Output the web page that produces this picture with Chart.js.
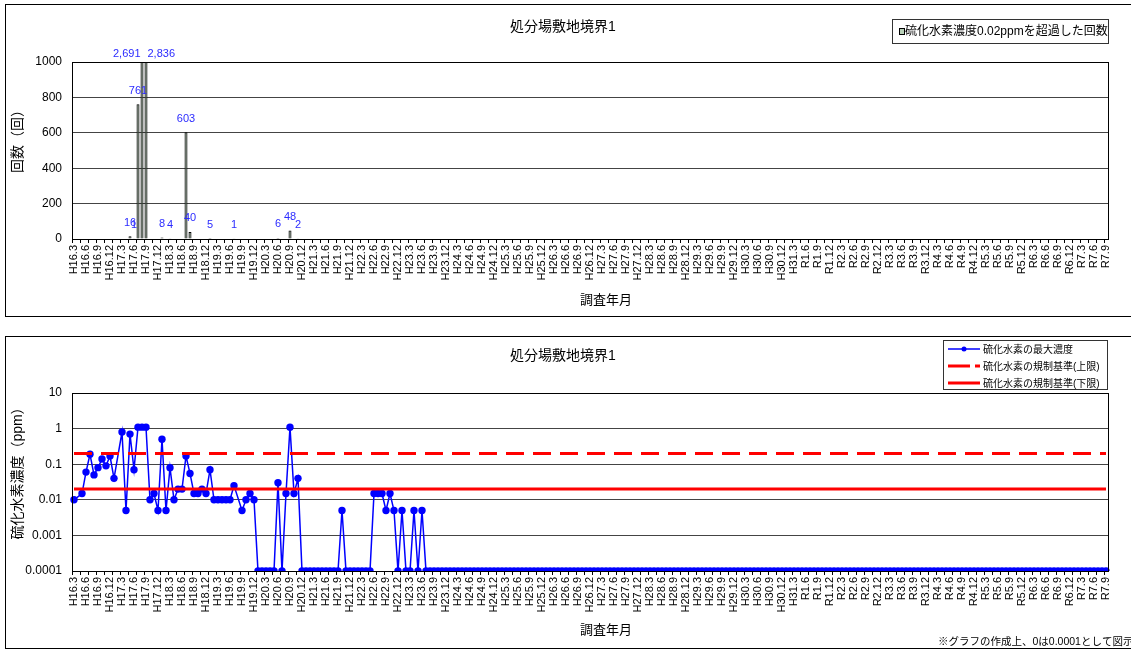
<!DOCTYPE html>
<html>
<head>
<meta charset="utf-8">
<script src="https://cdn.jsdelivr.net/npm/chart.js@4.4.0/dist/chart.umd.min.js"></script>
<style>
    html, body { margin: 0; padding: 0; background: #fff; overflow: hidden; }
    .panel { position: absolute; left: 5px; width: 1140px; height: 311px; border: 1px solid #000; }
    .panel canvas { position: absolute; left: 0; top: 0; }
</style>
</head>
<body>
<div class="panel" style="top:4px"><canvas id="countChart" width="1125" height="310"></canvas></div>
<div class="panel" style="top:336px"><canvas id="ppmChart" width="1125" height="310"></canvas></div>
<script>
var FONT = "'Liberation Sans', 'Noto Sans CJK JP', sans-serif";

// axis labels, one every 3 months (data is monthly)
var tickLabels = [
    'H16.3', 'H16.6', 'H16.9', 'H16.12', 'H17.3', 'H17.6', 'H17.9', 'H17.12',
    'H18.3', 'H18.6', 'H18.9', 'H18.12', 'H19.3', 'H19.6', 'H19.9', 'H19.12',
    'H20.3', 'H20.6', 'H20.9', 'H20.12', 'H21.3', 'H21.6', 'H21.9', 'H21.12',
    'H22.3', 'H22.6', 'H22.9', 'H22.12', 'H23.3', 'H23.6', 'H23.9', 'H23.12',
    'H24.3', 'H24.6', 'H24.9', 'H24.12', 'H25.3', 'H25.6', 'H25.9', 'H25.12',
    'H26.3', 'H26.6', 'H26.9', 'H26.12', 'H27.3', 'H27.6', 'H27.9', 'H27.12',
    'H28.3', 'H28.6', 'H28.9', 'H28.12', 'H29.3', 'H29.6', 'H29.9', 'H29.12',
    'H30.3', 'H30.6', 'H30.9', 'H30.12', 'H31.3', 'R1.6', 'R1.9', 'R1.12',
    'R2.3', 'R2.6', 'R2.9', 'R2.12', 'R3.3', 'R3.6', 'R3.9', 'R3.12',
    'R4.3', 'R4.6', 'R4.9', 'R4.12', 'R5.3', 'R5.6', 'R5.9', 'R5.12',
    'R6.3', 'R6.6', 'R6.9', 'R6.12', 'R7.3', 'R7.6', 'R7.9'
];

// times over 0.02ppm per month (from H16.3)
var exceedCount = [
    null, null, null, null, null, null, null, null, null, null, null, null,
    null, null, 16, 1, 761, 2691, 2836, 0, 0, 0, 8, 0,
    4, 0, 0, 0, 603, 40, 0, 0, 0, 0, 5, 0,
    0, 0, 0, 0, 1, 0, 0, 0, 0, 0, 0, 0,
    0, 0, 0, 6, 0, 0, 48, 0, 2, 0, 0, 0,
    0, 0, 0, 0, 0, 0, 0, 0, 0, 0, 0, 0,
    0, 0, 0, 0, 0, 0, 0, 0, 0, 0, 0, 0,
    0, 0, 0, 0, 0, 0, 0, 0, 0, 0, 0, 0,
    0, 0, 0, 0, 0, 0, 0, 0, 0, 0, 0, 0,
    0, 0, 0, 0, 0, 0, 0, 0, 0, 0, 0, 0,
    0, 0, 0, 0, 0, 0, 0, 0, 0, 0, 0, 0,
    0, 0, 0, 0, 0, 0, 0, 0, 0, 0, 0, 0,
    0, 0, 0, 0, 0, 0, 0, 0, 0, 0, 0, 0,
    0, 0, 0, 0, 0, 0, 0, 0, 0, 0, 0, 0,
    0, 0, 0, 0, 0, 0, 0, 0, 0, 0, 0, 0,
    0, 0, 0, 0, 0, 0, 0, 0, 0, 0, 0, 0,
    0, 0, 0, 0, 0, 0, 0, 0, 0, 0, 0, 0,
    0, 0, 0, 0, 0, 0, 0, 0, 0, 0, 0, 0,
    0, 0, 0, 0, 0, 0, 0, 0, 0, 0, 0, 0,
    0, 0, 0, 0, 0, 0, 0, 0, 0, 0, 0, 0,
    0, 0, 0, 0, 0, 0, 0, 0, 0, 0, 0, 0,
    0, 0, 0, 0, 0, 0, 0
];

// max H2S concentration per month (ppm), 0 = not detected, null = no data
var maxPpm = [
    0.01, null, 0.015, 0.06, 0.19, 0.05, 0.08, 0.14, 0.09, 0.17, 0.04, null,
    0.8, 0.005, 0.7, 0.07, 1.1, 1.1, 1.1, 0.01, 0.015, 0.005, 0.5, 0.005,
    0.08, 0.01, 0.02, 0.02, 0.17, 0.055, 0.015, 0.015, 0.02, 0.015, 0.07, 0.01,
    0.01, 0.01, 0.01, 0.01, 0.025, null, 0.005, 0.01, 0.015, 0.01, 0, 0,
    0, 0, 0, 0.03, 0, 0.015, 1.1, 0.015, 0.04, 0, 0, 0,
    0, 0, 0, 0, 0, 0, 0, 0.005, 0, 0, 0, 0,
    0, 0, 0, 0.015, 0.015, 0.015, 0.005, 0.015, 0.005, 0, 0.005, 0,
    0, 0.005, 0, 0.005, 0, 0, 0, 0, 0, 0, 0, 0,
    0, 0, 0, 0, 0, 0, 0, 0, 0, 0, 0, 0,
    0, 0, 0, 0, 0, 0, 0, 0, 0, 0, 0, 0,
    0, 0, 0, 0, 0, 0, 0, 0, 0, 0, 0, 0,
    0, 0, 0, 0, 0, 0, 0, 0, 0, 0, 0, 0,
    0, 0, 0, 0, 0, 0, 0, 0, 0, 0, 0, 0,
    0, 0, 0, 0, 0, 0, 0, 0, 0, 0, 0, 0,
    0, 0, 0, 0, 0, 0, 0, 0, 0, 0, 0, 0,
    0, 0, 0, 0, 0, 0, 0, 0, 0, 0, 0, 0,
    0, 0, 0, 0, 0, 0, 0, 0, 0, 0, 0, 0,
    0, 0, 0, 0, 0, 0, 0, 0, 0, 0, 0, 0,
    0, 0, 0, 0, 0, 0, 0, 0, 0, 0, 0, 0,
    0, 0, 0, 0, 0, 0, 0, 0, 0, 0, 0, 0,
    0, 0, 0, 0, 0, 0, 0, 0, 0, 0, 0, 0,
    0, 0, 0, 0, 0, 0, 0
];

var upperLimit = 0.2;   // 規制基準(上限)
var lowerLimit = 0.02;  // 規制基準(下限)
var zeroAs = 0.0001;    // 0 is drawn as 0.0001

var countTicks = [0, 200, 400, 600, 800, 1000];
var ppmTicks = [0.0001, 0.001, 0.01, 0.1, 1, 10];
var ppmTickLabels = ['0.0001', '0.001', '0.01', '0.1', '1', '10'];

// monthly categories, named only every third month
var months = [];
tickLabels.forEach(function (t, i) {
    months.push(t);
    if (i < tickLabels.length - 1) months.push('', '');
});

var ppmPlot = maxPpm.map(function (v) { return v === 0 ? zeroAs : v; });

function xAxis() {
    return {
        offset: true,
        ticks: {
            autoSkip: false, maxRotation: 90, minRotation: 90, padding: 2,
            color: '#000', font: { family: FONT, size: 11 },
            callback: function (v, i) { return months[i]; }
        },
        grid: {
            offset: true, drawOnChartArea: false, tickLength: 4,
            color: function (c) { return c.index % 2 === 0 ? '#000' : 'rgba(0,0,0,0)'; }
        },
        border: { display: false },
        afterFit: function (s) { s.height = 76; }
    };
}

// frame, titles, legend box, note
var decor = {
    id: 'decor',
    afterDraw: function (chart, args, o) {
        var ctx = chart.ctx, a = chart.chartArea;
        ctx.save();
        ctx.strokeStyle = '#000';
        ctx.lineWidth = 1;
        ctx.strokeRect(Math.round(a.left) + 0.5, Math.round(a.top) + 0.5, Math.round(a.right - a.left), Math.round(a.bottom - a.top));

        ctx.fillStyle = '#000';
        ctx.textAlign = 'center';
        ctx.textBaseline = 'middle';
        ctx.font = '14px ' + FONT;
        ctx.fillText(o.title, 557, o.titleY);
        ctx.font = '13px ' + FONT;
        ctx.fillText(o.xTitle, 600, o.xTitleY);

        ctx.save();
        ctx.translate(12, 133);
        ctx.rotate(-Math.PI / 2);
        ctx.font = '14px ' + FONT;
        ctx.fillText(o.yTitle, 0, 0);
        ctx.restore();

        var L = o.legend;
        ctx.strokeStyle = '#333';
        ctx.strokeRect(L.x + 0.5, L.y + 0.5, L.w, L.h);
        ctx.textAlign = 'left';
        ctx.font = L.size + 'px ' + FONT;
        chart.data.datasets.forEach(function (ds, i) {
            var y = L.y + L.first + i * L.step;
            if (chart.config.type === 'bar') {
                ctx.fillStyle = '#b8d0b8';
                ctx.fillRect(L.x + 7, y - 3, 5, 6);
                ctx.strokeStyle = '#000';
                ctx.strokeRect(L.x + 7.5, y - 2.5, 5, 6);
                ctx.fillStyle = '#000';
                ctx.fillText(ds.label, L.x + 13, y + 1);
            } else {
                ctx.save();
                ctx.strokeStyle = ds.borderColor;
                ctx.lineWidth = ds.borderWidth;
                ctx.setLineDash(ds.borderDash ? [22, 5] : []);
                ctx.beginPath();
                ctx.moveTo(L.x + 5, y);
                ctx.lineTo(L.x + 37, y);
                ctx.stroke();
                if (ds.pointRadius) {
                    ctx.fillStyle = ds.borderColor;
                    ctx.beginPath();
                    ctx.arc(L.x + 21, y, 2.5, 0, Math.PI * 2);
                    ctx.fill();
                }
                ctx.restore();
                ctx.fillText(ds.label, L.x + 40, y + 1);
            }
        });

        if (o.note) {
            ctx.font = '10.5px ' + FONT;
            ctx.fillText(o.note, 932, 305);
        }
        ctx.restore();
    }
};

// value labels above bars; bars cut off at the top get their label beside them
var barValueLabels = {
    id: 'barValueLabels',
    afterDatasetsDraw: function (chart) {
        var ctx = chart.ctx, a = chart.chartArea;
        var data = chart.data.datasets[0].data;
        var max = chart.scales.y.max;
        ctx.save();
        ctx.font = '11px ' + FONT;
        ctx.fillStyle = '#2b2bff';
        ctx.textBaseline = 'bottom';
        chart.getDatasetMeta(0).data.forEach(function (bar, i) {
            if (!data[i]) return;
            var x = bar.x, y = bar.y - 8;
            ctx.textAlign = 'center';
            if (data[i] > max) {
                y = a.top - 3;
                if (data[i + 1] > max) { ctx.textAlign = 'right'; x = bar.x - 1.5; }
                else if (data[i - 1] > max) { ctx.textAlign = 'left'; x = bar.x + 1.5; }
            }
            ctx.fillText(data[i].toLocaleString('en-US'), x, y);
        });
        ctx.restore();
    }
};

Chart.defaults.font.family = FONT;

new Chart(document.getElementById('countChart'), {
    type: 'bar',
    data: {
        labels: months,
        datasets: [{
            label: '硫化水素濃度0.02ppmを超過した回数',
            data: exceedCount,
            backgroundColor: '#4d5d4d',
            borderColor: '#000',
            borderWidth: 1,
            barPercentage: 0.75,
            categoryPercentage: 1
        }]
    },
    options: {
        responsive: false,
        animation: false,
        events: [],
        layout: { padding: { top: 57, right: 23, left: 0, bottom: 0 } },
        scales: {
            x: xAxis(),
            y: {
                min: 0, max: 1000,
                afterBuildTicks: function (s) { s.ticks = countTicks.map(function (v) { return { value: v }; }); },
                ticks: {
                    padding: 10, color: '#000', font: { family: FONT, size: 12 },
                    callback: function (v) { return String(v); }
                },
                grid: { color: '#444', drawTicks: false },
                border: { display: false },
                afterFit: function (s) { s.width = 66; }
            }
        },
        plugins: {
            legend: { display: false },
            tooltip: { enabled: false },
            decor: {
                title: '処分場敷地境界1', titleY: 22,
                xTitle: '調査年月', xTitleY: 295, yTitle: '回数（回）',
                legend: { x: 886, y: 14, w: 216, h: 24, first: 12, step: 0, size: 12 }
            }
        }
    },
    plugins: [decor, barValueLabels]
});

new Chart(document.getElementById('ppmChart'), {
    type: 'line',
    data: {
        labels: months,
        datasets: [{
            label: '硫化水素の最大濃度',
            data: ppmPlot,
            borderColor: '#0000ff',
            backgroundColor: '#0000ff',
            borderWidth: 1.5,
            pointRadius: 3.7,
            pointBorderWidth: 0,
            spanGaps: true,
            order: 2
        }, {
            label: '硫化水素の規制基準(上限)',
            data: months.map(function () { return upperLimit; }),
            borderColor: '#ff0000',
            borderWidth: 3,
            borderDash: [18, 9],
            pointRadius: 0,
            order: 1
        }, {
            label: '硫化水素の規制基準(下限)',
            data: months.map(function () { return lowerLimit; }),
            borderColor: '#ff0000',
            borderWidth: 3,
            pointRadius: 0,
            order: 0
        }]
    },
    options: {
        responsive: false,
        animation: false,
        events: [],
        layout: { padding: { top: 56, right: 23, left: 0, bottom: 0 } },
        scales: {
            x: xAxis(),
            y: {
                type: 'logarithmic',
                min: 0.0001, max: 10,
                afterBuildTicks: function (s) { s.ticks = ppmTicks.map(function (v) { return { value: v }; }); },
                ticks: {
                    padding: 10, color: '#000', font: { family: FONT, size: 12 },
                    callback: function (v) { return ppmTickLabels[ppmTicks.indexOf(v)]; }
                },
                grid: { color: '#444', drawTicks: false },
                border: { display: false },
                afterFit: function (s) { s.width = 66; }
            }
        },
        plugins: {
            legend: { display: false },
            tooltip: { enabled: false },
            decor: {
                title: '処分場敷地境界1', titleY: 19,
                xTitle: '調査年月', xTitleY: 293, yTitle: '硫化水素濃度（ppm）',
                legend: { x: 937, y: 3, w: 164, h: 49, first: 9, step: 17, size: 10 },
                note: '※グラフの作成上、0は0.0001として図示'
            }
        }
    },
    plugins: [decor]
});
</script>
</body>
</html>
